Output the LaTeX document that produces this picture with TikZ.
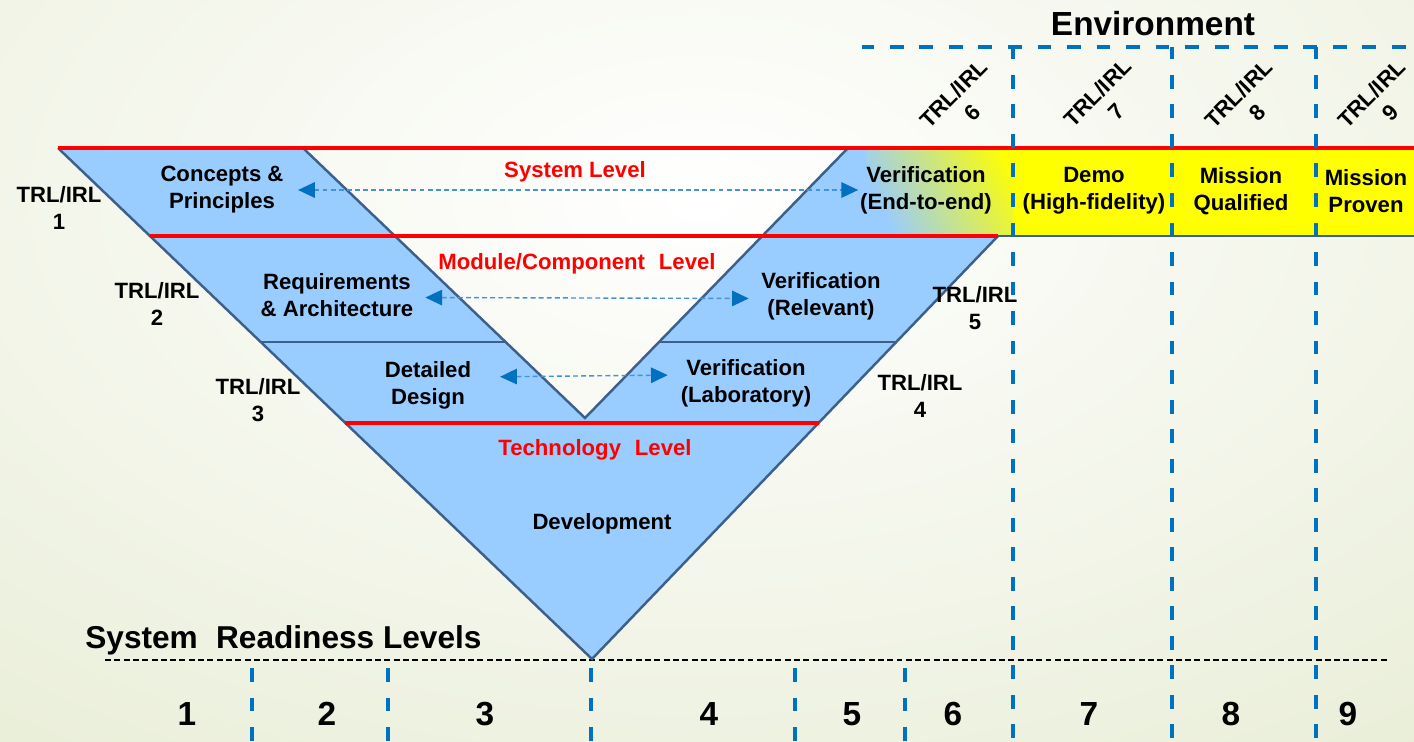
\documentclass[tikz,border=0pt]{standalone}
\usepackage{fontspec}
\setmainfont{Liberation Sans}
\usetikzlibrary{positioning, arrows.meta}

\definecolor{vblue}{RGB}{153,204,255}
\definecolor{vedge}{RGB}{60,95,140}
\definecolor{vyellow}{RGB}{255,255,0}
\definecolor{envblue}{RGB}{0,112,192}
\definecolor{linkblue}{RGB}{70,145,215}
\definecolor{bggreen}{RGB}{233,238,216}

\begin{document}
\begin{tikzpicture}[x=0.02cm, y=-0.02cm,
        lbl/.style={font=\fontsize{12.6}{15.4}\selectfont\bfseries, align=center, inner sep=1pt},
        lvl/.style={lbl, text=red, anchor=base},
        rot/.style={lbl, rotate=45},
        big/.style={font=\fontsize{18}{22}\selectfont\bfseries, inner sep=0pt, anchor=base},
        num/.style={big, font=\fontsize{19}{23}\selectfont\bfseries},
        rim/.style={vedge, line width=1.4pt},
        level/.style={red, line width=2pt},
        env/.style={envblue, line width=2pt, dash pattern=on 7.9pt off 8.9pt, dash phase=0.9pt},
        link/.style={<->, >={Triangle[length=9.5pt, width=8.8pt, color=envblue]}, linkblue, line width=0.8pt, dash pattern=on 2.8pt off 1.8pt}]
        \useasboundingbox (0,0) rectangle (1414,741);
        \fill[bggreen] (0,0) rectangle (1414,741);
        \begin{scope}
            \clip (0,0) rectangle (1414,741);
            \shade[inner color=white, outer color=bggreen] (-500,-500) rectangle (1900,900);
        \end{scope}

        % the V
        \fill[vyellow] (848,148) rectangle (1414,236);
        \fill[vblue] (58,148) -- (303,148) -- (585,418) -- (848,148) -- (1005,148) -- (1005,236) -- (998,236) -- (592,659) -- cycle;
        \begin{scope}
            \clip (848,148) -- (1013,148) -- (1013,236) -- (762,236) -- cycle;
            \shade[left color=vblue, right color=vyellow, shading angle=118] (866,148) rectangle (1030,236);
        \end{scope}
        \draw[black, line width=0.7pt, dash pattern=on 3.4pt off 1.9pt] (105,660) -- (1390,660);
        \draw[rim] (58,148) -- (592,659) -- (998,236);
        \draw[rim] (303,148) -- (585,418) -- (848,148);
        \draw[rim, line width=0.9pt] (261,342) -- (506,342) (659,342) -- (896,342);
        \draw[rim] (998,236) -- (1414,236);
        \draw[level] (58,148) -- (1414,148);
        \draw[level] (150,236) -- (998,236);
        \draw[level] (345,423) -- (819,423);

        % environment columns
        \draw[env] (862,47) -- (1414,47);
        \draw[env] (1013,47) -- (1013,741);
        \draw[env] (1172,47) -- (1172,741);
        \draw[env] (1316,47) -- (1316,741);
        \draw[env, dash phase=0pt] (252,668) -- (252,741);
        \draw[env, dash phase=0pt] (388,668) -- (388,741);
        \draw[env, dash phase=0pt] (591,668) -- (591,741);
        \draw[env, dash phase=0pt] (795,668) -- (795,741);
        \draw[env, dash phase=0pt] (905,668) -- (905,741);

        \node[lbl] (concepts) at (222,190) {Concepts \&\\Principles};
        \node[lbl] (req) at (337,295) {Requirements\\\& Architecture};
        \node[lbl] (det) at (428,385) {Detailed\\Design};
        \node[lbl] (verif6) at (926,190) {Verification\\(End-to-end)};
        \node[lbl] (relev) at (821,296) {Verification\\(Relevant)};
        \node[lbl] (lab) at (746,383) {Verification\\(Laboratory)};
        \node[lbl, anchor=base] (dev) at (602,529) {Development};
        \node[lbl] (demo) at (1094,191) {Demo\\(High-fidelity)};
        \node[lbl] (qual) at (1241,191) {Mission\\Qualified};
        \node[lbl] (proven) at (1366,191) {Mission\\Proven};

        \node[lvl] (syslvl) at (575,177) {System Level};
        \node[lvl] (modlvl) at (577,269) {Module/Component\hspace{0.35em} Level};
        \node[lvl] (techlvl) at (595,455) {Technology\hspace{0.35em} Level};

        \node[lbl] (trl1) at (59,208) {TRL/IRL\\1};
        \node[lbl] (trl2) at (157,304) {TRL/IRL\\2};
        \node[lbl] (trl3) at (258,400) {TRL/IRL\\3};
        \node[lbl] (trl4) at (920,396) {TRL/IRL\\4};
        \node[lbl] (trl5) at (975,308) {TRL/IRL\\5};
        \node[rot] (trl6) at (963,103) {TRL/IRL\\6};
        \node[rot] (trl7) at (1107,102) {TRL/IRL\\7};
        \node[rot] (trl8) at (1248,103) {TRL/IRL\\8};
        \node[rot] (trl9) at (1381,103) {TRL/IRL\\9};

        \node[num] (env) at (1153,35) {Environment};
        \node[big, anchor=base west] (srl) at (85,648) {System\hspace{0.3em} Readiness Levels};
        \node[num] (srl1) at (187,725) {1};
        \node[num] (srl2) at (327,725) {2};
        \node[num] (srl3) at (485,725) {3};
        \node[num] (srl4) at (709,725) {4};
        \node[num] (srl5) at (852,725) {5};
        \node[num] (srl6) at (953,725) {6};
        \node[num] (srl7) at (1089,725) {7};
        \node[num] (srl8) at (1231,725) {8};
        \node[num] (srl9) at (1348,725) {9};

        \path[link]
            (concepts) edge[shorten <=0.25cm] (verif6)
            ([yshift=-0.05cm]req.east) edge[shorten <=0.2cm, shorten >=0.21cm] ([yshift=-0.05cm]relev.west)
            ([yshift=0.16cm]det.east) edge[shorten <=0.54cm, shorten >=0.22cm] ([yshift=0.16cm]lab.west);
    \end{tikzpicture}
\end{document}
